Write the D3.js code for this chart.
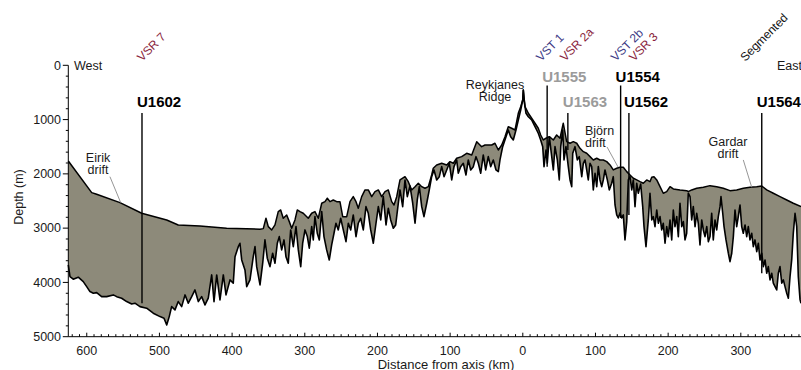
<!DOCTYPE html>
<html>
<head>
<meta charset="utf-8">
<script src="https://cdn.jsdelivr.net/npm/d3@7"></script>
<style>
  html, body { margin: 0; padding: 0; background: #fff; }
  svg { display: block; font-family: "Liberation Sans", Arial, Helvetica, sans-serif; }
</style>
</head>
<body>
<svg id="chart" width="801" height="370"></svg>
<script>
// Distance from the ridge axis (km, west negative) and depth (m)
// of the sediment surface along the transect.
const seafloorKm = [
  -625.4,-593.2,-586.4,-554.3,-524.4,-490.0,-474.1,-444.2,-407.5,-361.6,-357.1,-353.4,-350.2,-345.5,-341.0,
  -336.5,-333.2,-329.6,-324.9,-321.3,-318.0,-313.5,-310.3,-306.6,-302.1,-298.3,-295.2,-290.5,-286.0,-281.4,
  -276.7,-272.2,-269.0,-265.3,-260.8,-256.1,-251.6,-247.8,-242.3,-237.8,-233.3,-229.5,-226.4,-221.7,-217.1,
  -212.6,-207.9,-203.4,-198.8,-194.2,-189.6,-185.1,-180.4,-177.2,-173.5,-169.0,-162.1,-157.6,-152.9,-148.3,
  -143.8,-139.1,-134.6,-130.0,-125.4,-123.2,-118.5,-111.6,-104.7,-100.2,-95.6,-91.0,-84.1,-77.2,-70.3,
  -63.4,-56.6,-52.0,-47.5,-42.8,-38.3,-33.7,-29.0,-24.5,-20.0,-15.3,-10.7,-6.2,-2.9,-0.1,0.7,
  3.0,7.6,12.2,16.8,21.3,24.6,28.2,31.9,36.5,42.0,46.6,51.2,55.7,60.4,65.0,69.5,74.2,78.7,83.3,87.9,
  92.5,97.0,101.7,106.2,110.8,115.5,120.0,124.5,129.2,133.8,138.3,143.0,147.5,152.1,156.7,161.3,165.8,
  170.5,175.0,177.4,180.5,184.3,188.8,193.3,198.0,202.6,207.1,216.3,225.5,227.7,232.4,239.3,248.4,257.6,
  266.8,275.9,285.1,294.3,303.4,312.6,321.9,328.8,335.6,344.7,353.9,363.2,372.2,382.8
];
const seafloorDepth = [
  1762,2346,2376,2530,2726,2849,2941,2959,3002,3020,3009,2818,2972,3033,2941,
  2696,2665,2818,2757,2880,3002,2849,2665,2696,2726,2775,2818,2726,2696,2818,
  2541,2512,2449,2512,2481,2512,2512,2788,2788,2512,2420,2512,2634,2420,2296,
  2296,2420,2328,2296,2420,2328,2296,2512,2573,2420,2112,2052,2144,2296,2236,
  2173,2236,2265,2236,2020,1897,1836,1805,1836,1775,1805,1713,1683,1621,1652,
  1407,1499,1468,1468,1468,1436,1560,1468,1315,1131,1160,1192,884,762,639,455,
  762,884,976,1068,1160,1284,1376,1344,1315,1376,1284,1344,1068,1407,1436,1407,1436,1529,1591,1621,
  1683,1744,1713,1744,1744,1775,1836,1928,1897,1878,1878,1959,2020,2081,2112,2144,2173,
  2112,2144,2063,2052,2112,2236,2357,2328,2236,2278,2296,2309,2328,2296,2265,2247,2217,
  2236,2265,2309,2296,2265,2247,2236,2223,2296,2357,2420,2481,2541,2604
];

// Depth of the igneous basement along the same transect.
const basementKm = [
  -625.4,-623.1,-618.6,-611.7,-604.8,-600.1,-595.6,-591.0,-586.4,-579.5,-572.6,-563.5,-558.8,-552.0,-545.1,
  -538.2,-533.7,-526.8,-517.6,-508.5,-499.2,-493.7,-490.0,-486.5,-483.2,-478.6,-474.1,-469.4,-464.8,-460.3,
  -455.6,-451.1,-446.5,-441.9,-437.3,-432.8,-428.1,-424.9,-421.2,-416.7,-412.1,-408.4,-402.9,-398.4,-396.0,
  -391.5,-389.2,-386.8,-382.3,-379.9,-375.4,-370.9,-368.5,-366.2,
  -361.6,-357.9,-354.8,-351.6,-347.9,-344.2,-341.0,-337.8,-335.1,-331.8,-328.6,-325.9,-322.7,-319.4,-315.8,
  -312.1,-308.9,-305.6,-302.9,-299.7,-296.5,-293.8,-290.5,-288.3,-286.0,-282.8,-280.0,-276.7,-273.6,-269.9,
  -266.3,-263.0,-259.8,-257.1,-253.9,-250.6,-247.0,-243.3,-240.1,-236.8,-233.3,-229.5,-226.4,-223.1,-219.5,
  -215.8,-212.6,-209.3,-205.7,-202.0,-198.8,-195.5,-192.0,-188.2,-185.1,-181.8,-178.2,-174.9,-171.3,
  -169.0,-165.3,-162.1,-158.9,-155.2,-151.5,-148.3,-145.2,-142.4,-139.1,-136.0,-132.2,-128.7,-125.4,-122.2,
  -118.5,-114.9,-111.6,-108.4,-104.7,-101.1,-97.8,-94.7,-91.0,-88.8,-85.5,-81.9,-78.2,-75.0,-71.7,
  -68.1,-64.4,-61.2,-57.9,-54.4,-51.1,-47.5,-44.2,-40.6,-36.9,-33.7,-31.4,-27.7,-23.1,-20.0,
  -16.7,-13.1,-9.4,-6.2,-2.9,-0.1,0.7,
  1.7,4.4,7.6,12.2,16.8,21.3,24.6,27.4,29.2,31.9,33.7,36.5,39.8,42.0,44.3,47.5,50.2,52.2,54.9,56.7,
  59.4,62.6,65.0,67.3,68.7,71.8,75.0,77.7,81.1,83.3,85.6,87.9,90.1,92.5,94.8,97.0,99.4,101.7,103.9,106.2,
  108.6,110.8,113.1,116.3,119.0,122.3,124.5,126.9,129.2,131.4,133.8,136.1,138.3,140.6,143.0,145.2,147.5,
  149.9,152.1,154.4,156.7,158.9,162.2,165.0,166.8,169.5,172.7,
  175.0,177.4,179.6,181.9,184.3,186.5,188.8,191.1,193.3,195.7,198.0,200.2,202.6,204.9,207.1,209.4,211.8,
  214.0,216.3,218.7,220.9,223.2,225.5,227.7,230.1,232.4,234.6,237.0,239.3,241.5,243.8,246.2,248.4,250.7,
  253.1,255.3,257.6,259.9,262.1,264.5,266.8,269.0,271.4,272.7,275.1,276.9,279.6,282.8,285.1,287.5,289.7,
  292.0,294.3,296.5,298.9,301.2,303.4,305.8,308.1,310.3,312.6,315.0,317.2,319.5,321.9,324.1,326.4,328.8,
  331.0,333.3,335.6,337.8,340.2,342.5,344.7,347.1,349.4,351.6,353.9,356.3,358.5,360.8,363.2,365.4,367.7,
  370.0,372.2,374.6,376.9,379.1,381.5,382.8
];
const basementDepth = [
  3678,3893,3941,3904,3985,4077,4169,4199,4188,4262,4262,4230,4262,4291,4353,
  4396,4383,4446,4475,4567,4630,4659,4783,4630,4446,4506,4353,4446,4230,4383,
  4262,4138,4353,4262,4414,4291,3862,4353,3862,4322,3862,4230,3954,4015,3525,
  3341,3278,3586,3770,4077,3954,3525,3341,3709,
  4046,3646,3217,3554,3709,3462,3646,3278,3156,3401,3217,3525,3646,3033,3341,
  2972,3401,3709,3278,3033,3156,3370,2972,3217,2788,3094,3217,2696,3156,3401,
  3586,3309,3094,2910,3033,2818,3033,3249,2910,3033,2757,3156,2910,2818,3033,
  2604,2726,3033,3278,2910,2604,2849,2420,2941,2634,2849,3002,2941,2541,
  2296,2604,2112,2420,2223,2541,2910,2481,2236,2604,2788,2541,2296,2052,1928,
  2112,2052,1867,2052,1928,1805,2112,1867,1744,1989,1867,1805,2020,1744,1928,
  1867,1683,1805,1989,1652,1928,1683,1867,1744,1928,1959,1744,1499,1315,1192,
  1315,1376,1192,1007,823,639,455,
  639,884,947,1007,1131,1252,1376,1499,1867,1560,1805,1315,1683,1928,1499,1744,2112,1499,1192,1744,
  1499,1867,2112,2236,1621,1499,1744,1683,2052,1805,1744,1928,2112,1805,1867,2296,1989,2236,1867,2112,
  2236,2112,1928,2112,2296,2173,2052,2573,2757,2812,2720,2812,2757,3217,2886,2112,2052,
  2296,2112,2604,2173,2357,2186,2604,2972,3341,2849,
  2357,2849,2788,2972,2665,2910,2788,3033,2910,3278,2972,3156,2849,3217,2665,2972,2788,
  3156,2541,2972,2880,3217,3094,2357,2420,2849,2604,2972,2726,2910,3309,2849,3033,3156,
  2972,3249,3156,2726,3217,2849,3033,2788,2604,2420,2726,2972,3217,3462,3617,3462,3156,
  2665,2972,2788,2573,2972,3094,2941,3156,2972,3217,3094,3341,3217,3433,3278,3586,3462,
  3709,3586,3831,3709,3954,3831,4015,4077,4138,3831,3709,4015,3954,4077,4199,4291,3893,
  3586,3094,2726,2972,3893,4322,4383
];

// Drill sites: distance from axis, depth reached by the marker line,
// label row (0 = upper, 1 = lower) and whether the site is shown muted.
const siteNames  = ["U1602", "U1555", "U1563", "U1554", "U1562", "U1564"];
const siteKm     = [-524, 33.5, 62, 134.6, 146, 328.8];
const siteBottom = [4383, 1867, 1560, 2812, 2757, 3830];
const siteRow    = [1, 0, 1, 0, 1, 1];
const siteMuted  = [false, true, true, false, false, false];

// Crustal segment labels above the profile.
const segNames = ["VSR 7", "VST 1", "VSR 2a", "VST 2b", "VSR 3", "Segmented"];
const segKm    = [-524, 25, 58, 128, 153, 306];
const segType  = ["VSR", "VST", "VSR", "VST", "VSR", "other"];

// Named features: label lines, anchor (km, depth) and optional leader end.
const featureLines = [["Eirik", "drift"], ["Reykjanes", "Ridge"], ["Björn", "drift"], ["Gardar", "drift"]];
const featureKm    = [-584.5, -38.3, 85.6, 282.4];
const featureDepth = [1778, 435, 1280, 1495];
const featureAlign = ["middle", "middle", "start", "middle"];
const leaderFrom   = [[-568.1, 2052], null, [115.9, 1505], [303.4, 1744]];
const leaderTo     = [[-553.3, 2530], null, [131.0, 1873], [315.0, 2247]];

const xMajorTicks = d3.range(-600, 301, 100);
const xMinorTicks = d3.range(-620, 381, 10);
const yMajorTicks = d3.range(0, 5001, 1000);
const yMinorTicks = d3.range(0, 5001, 200);

// ---------------------------------------------------------------------------
const svg = d3.select("#chart");
const x = d3.scaleLinear().domain([-625.4, 382.8]).range([68.3, 801]);
const y = d3.scaleLinear().domain([0, 5000]).range([65.3, 336.7]);

const FONT = 12.5;
const ink = "#1a1a1a";
const segColor = { VSR: "#8a1f3d", VST: "#3c3a85", other: "#111" };

const seafloor = d3.zip(seafloorKm, seafloorDepth);
const basement = d3.zip(basementKm, basementDepth);
const line = d3.line().x(d => x(d[0])).y(d => y(d[1]));

// Sediment body between the seafloor and basement
svg.append("path")
  .attr("d", line(seafloor.concat(basement.slice().reverse())) + "Z")
  .attr("fill", "#8d8a7a")
  .attr("stroke", "none");

svg.append("path").attr("d", line(basement))
  .attr("fill", "none").attr("stroke", "#000").attr("stroke-width", 1.6)
  .attr("stroke-linejoin", "round");
svg.append("path").attr("d", line(seafloor))
  .attr("fill", "none").attr("stroke", "#000").attr("stroke-width", 1.5)
  .attr("stroke-linejoin", "round");

// Axes
const axisG = svg.append("g").attr("stroke", "#000").attr("stroke-width", 1);
axisG.append("line").attr("x1", x.range()[0]).attr("x2", 801)
  .attr("y1", y(5000)).attr("y2", y(5000));
axisG.append("line").attr("x1", x.range()[0]).attr("x2", x.range()[0])
  .attr("y1", y(0)).attr("y2", y(5000));

axisG.selectAll(".xminor").data(xMinorTicks).join("line")
  .attr("x1", d => x(d)).attr("x2", d => x(d))
  .attr("y1", y(5000)).attr("y2", d => y(5000) - (d % 100 === 0 ? 4 : 2.5));

axisG.selectAll(".yminor").data(yMinorTicks).join("line")
  .attr("x1", x.range()[0]).attr("x2", d => x.range()[0] - (d % 1000 === 0 ? 5.5 : 2.5))
  .attr("y1", d => y(d)).attr("y2", d => y(d));

svg.append("g").selectAll("text").data(xMajorTicks).join("text")
  .attr("x", d => x(d)).attr("y", 354.5)
  .attr("text-anchor", "middle").attr("font-size", FONT).attr("fill", ink)
  .text(d => Math.abs(d));

svg.append("g").selectAll("text").data(yMajorTicks).join("text")
  .attr("x", 61).attr("y", d => y(d) + 4.3)
  .attr("text-anchor", "end").attr("font-size", FONT).attr("fill", ink)
  .text(d => d);

svg.append("text").attr("x", 446).attr("y", 368.5)
  .attr("text-anchor", "middle").attr("font-size", 13).attr("fill", ink)
  .text("Distance from axis (km)");
svg.append("text").attr("transform", "translate(23,197) rotate(-90)")
  .attr("text-anchor", "middle").attr("font-size", 12.5).attr("fill", ink)
  .text("Depth (m)");

svg.append("text").attr("x", 74).attr("y", 70)
  .attr("font-size", FONT).attr("fill", ink).text("West");
svg.append("text").attr("x", 777).attr("y", 70)
  .attr("font-size", FONT).attr("fill", ink).text("East");

// Features and leaders
featureLines.forEach((lines, i) => {
  if (leaderFrom[i]) {
    svg.append("line")
      .attr("x1", x(leaderFrom[i][0])).attr("y1", y(leaderFrom[i][1]))
      .attr("x2", x(leaderTo[i][0])).attr("y2", y(leaderTo[i][1]))
      .attr("stroke", "#8a8a8a").attr("stroke-width", 0.9);
  }
  lines.forEach((s, j) => {
    svg.append("text")
      .attr("x", x(featureKm[i])).attr("y", y(featureDepth[i]) + j * 12)
      .attr("text-anchor", featureAlign[i]).attr("font-size", FONT).attr("fill", ink)
      .text(s);
  });
});

// Drill sites
const rowBaseline = [81.5, 107];
const rowLineTop  = [85.5, 113];
siteNames.forEach((name, i) => {
  const sx = x(siteKm[i]);
  svg.append("line")
    .attr("x1", sx).attr("x2", sx)
    .attr("y1", rowLineTop[siteRow[i]]).attr("y2", y(siteBottom[i]))
    .attr("stroke", "#000").attr("stroke-width", 1.4);
  svg.append("text")
    .attr("x", sx - 5).attr("y", rowBaseline[siteRow[i]])
    .attr("font-size", 15).attr("font-weight", "bold")
    .attr("fill", siteMuted[i] ? "#9b9b9b" : "#000")
    .text(name);
});

// Segment labels, set at 45 degrees
segNames.forEach((name, i) => {
  svg.append("text")
    .attr("transform", `translate(${x(segKm[i])},62) rotate(-45)`)
    .attr("font-size", 12).attr("fill", segColor[segType[i]])
    .text(name);
});
</script>
</body>
</html>
